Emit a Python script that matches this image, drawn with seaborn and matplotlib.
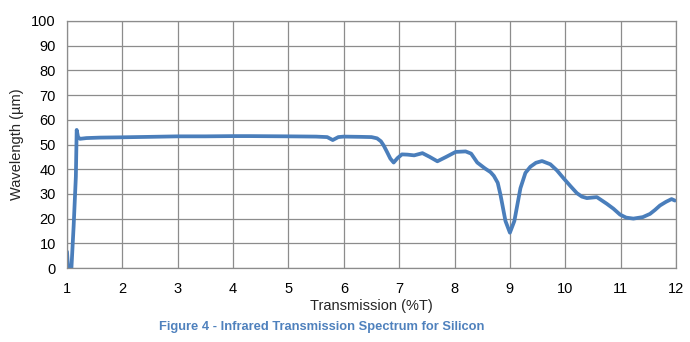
import matplotlib
matplotlib.use("Agg")
import matplotlib.pyplot as plt
import seaborn as sns
import pandas as pd

transmission = [1.00, 1.02, 1.04, 1.08, 1.12, 1.16, 1.175, 1.20, 1.235, 1.35, 1.6, 1.96,
                2.5, 3.0, 3.5, 4.0, 4.3, 5.0, 5.5, 5.7, 5.8, 5.9, 6.0, 6.3, 6.5, 6.6,
                6.67, 6.72, 6.78, 6.84, 6.9, 6.97, 7.05, 7.15, 7.27, 7.42, 7.55, 7.69, 7.85, 8.02,
                8.2, 8.3, 8.41, 8.55, 8.65, 8.71, 8.78, 8.83, 8.92, 9.00, 9.08, 9.19, 9.28,
                9.37, 9.47, 9.58, 9.73, 9.85, 9.97, 10.1, 10.21, 10.3, 10.39, 10.57, 10.75,
                10.87, 10.99, 11.1, 11.23, 11.4, 11.53, 11.62, 11.71, 11.82, 11.92, 11.98]
wavelength = [6.6, 0.0, 0.0, 0.0, 17.0, 37.0, 55.9, 53.0, 52.3, 52.6, 52.8, 52.9,
              53.1, 53.3, 53.3, 53.4, 53.4, 53.3, 53.2, 53.0, 51.8, 53.0, 53.2, 53.1, 53.0, 52.5,
              51.3, 49.6, 47.0, 44.3, 42.7, 44.5, 46.0, 45.9, 45.6, 46.5, 45.0, 43.2, 45.0, 47.0,
              47.2, 46.3, 42.7, 40.3, 38.8, 37.3, 34.5, 29.6, 19.0, 14.3, 19.0, 32.3, 38.5,
              41.0, 42.6, 43.3, 42.0, 39.5, 36.3, 33.0, 30.3, 28.9, 28.3, 28.7, 26.0,
              24.0, 21.6, 20.4, 20.0, 20.6, 21.9, 23.5, 25.3, 26.8, 27.9, 27.3]

df = pd.DataFrame({"Transmission (%T)": transmission, "Wavelength (µm)": wavelength})

sns.set_style("white")
plt.rcParams["font.family"] = ["Liberation Sans", "DejaVu Sans"]

fig = plt.figure(figsize=(6.9, 3.42), dpi=100)
ax = fig.add_axes([67/690, 1 - 268/342, (676-67)/690, (268-21)/342])

sns.lineplot(data=df, x="Transmission (%T)", y="Wavelength (µm)", ax=ax,
             color="#4a7ebb", linewidth=2.7, sort=False, estimator=None)

ax.set_xlim(1, 12)
ax.set_ylim(0, 100)
ax.set_xticks(range(1, 13))
ax.set_yticks(range(0, 101, 10))
ax.grid(True, color="#8c8c8c", linewidth=0.9)
ax.set_axisbelow(True)
for s in ax.spines.values():
    s.set_color("#8c8c8c")
    s.set_linewidth(0.9)
ax.tick_params(axis="both", length=0, labelsize=10.5, colors="#000000")
ax.tick_params(axis="x", pad=10)
ax.tick_params(axis="y", pad=8)
ax.set_xlabel("Transmission (%T)", fontsize=10.5, labelpad=2)
ax.set_ylabel("Wavelength (µm)", fontsize=10.5, labelpad=5)

fig.text(322/690, 1 - 327/342, "Figure 4 - Infrared Transmission Spectrum for Silicon",
         ha="center", va="center", fontsize=9.3, fontweight="bold", color="#4f81bd")

fig.savefig("out.png", dpi=100)
